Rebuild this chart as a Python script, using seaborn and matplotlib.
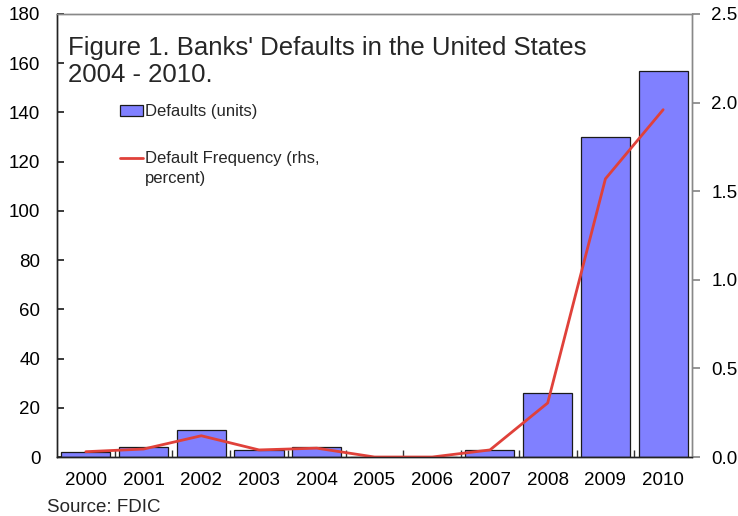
import matplotlib
matplotlib.use("Agg")
import matplotlib.pyplot as plt
import seaborn as sns
import numpy as np
import pandas as pd
from matplotlib.patches import Patch
from matplotlib.lines import Line2D

years = ["2000", "2001", "2002", "2003", "2004", "2005", "2006", "2007", "2008", "2009", "2010"]
defaults = [2, 4, 11, 3, 4, 0, 0, 3, 26, 130, 157]
frequency = [0.03, 0.045, 0.12, 0.04, 0.05, 0.0, 0.0, 0.04, 0.305, 1.57, 1.96]
left_ticks = [0, 20, 40, 60, 80, 100, 120, 140, 160, 180]
right_ticks = [0.0, 0.5, 1.0, 1.5, 2.0, 2.5]

sns.set_theme(style="white")
plt.rcParams["font.family"] = ["Liberation Sans", "DejaVu Sans"]

df = pd.DataFrame({"year": years, "defaults": defaults, "freq": frequency})
df["pos"] = np.arange(len(years))

fig = plt.figure(figsize=(7.38, 5.16), dpi=100)
ax = fig.add_axes([0.0772, 0.1143, 0.8605, 0.8586])

sns.barplot(data=df, x="year", y="defaults", color="#8080FF", saturation=1,
            edgecolor="#1a1a1a", linewidth=0.9, width=0.85, ax=ax)
ax.set_ylim(0, 180)
ax.set_yticks(left_ticks)
ax.set_xlim(-0.5, len(years) - 0.5)
ax.set_xlabel("")
ax.set_ylabel("")
ax.tick_params(axis="y", labelsize=13.5, length=5, direction="in", left=True,
               color="#222222", pad=12, labelcolor="black")
ax.tick_params(axis="x", which="major", length=0, labelsize=13.5, pad=11, labelcolor="black")
ax.set_xticks(np.arange(len(years) - 1) + 0.5, minor=True)
ax.tick_params(axis="x", which="minor", direction="in", length=5, bottom=True, color="#333333")

ax2 = ax.twinx()
sns.lineplot(data=df, x="pos", y="freq", color="#E0413A", linewidth=2, ax=ax2)
ax2.set_ylim(0, 2.5)
ax2.set_yticks(right_ticks)
ax2.set_yticklabels([f"{t:.1f}" for t in right_ticks])
ax2.set_ylabel("")
ax2.set_xlabel("")
ax2.set_xlim(-0.5, len(years) - 0.5)
ax2.tick_params(axis="y", labelsize=13.5, length=6, direction="out", right=True,
                color="#888888", pad=8, labelcolor="black")

for a in (ax, ax2):
    for s in a.spines.values():
        s.set_visible(True)
        s.set_linewidth(1.0)
    a.spines["top"].set_color("#888888")
    a.spines["right"].set_color("#888888")
    a.spines["left"].set_color("#222222")
    a.spines["bottom"].set_color("#222222")

ax.text(0.017, 0.951, "Figure 1. Banks' Defaults in the United States\n2004 - 2010.",
        transform=ax.transAxes, fontsize=18.5, va="top", ha="left", linespacing=1.15)

handles = [Patch(facecolor="#8080FF", edgecolor="#1a1a1a", linewidth=0.9),
           Line2D([0], [0], color="#E0413A", linewidth=2)]
labels = ["Defaults (units)", "Default Frequency (rhs,"]
fig.legend(handles, labels, loc="upper left", bbox_to_anchor=(120 / 738, 1 - 104 / 516),
           frameon=False, fontsize=12, handlelength=1.4, handleheight=0.65,
           handletextpad=0.12, labelspacing=1.95, borderaxespad=0, borderpad=0)
fig.text(145 / 738, 1 - 178 / 516, "percent)", fontsize=12, ha="left", va="center")

fig.text(47 / 738, 1 - 507 / 516, "Source: FDIC", fontsize=13.5, ha="left", va="center")

fig.savefig("out.png", dpi=100)
